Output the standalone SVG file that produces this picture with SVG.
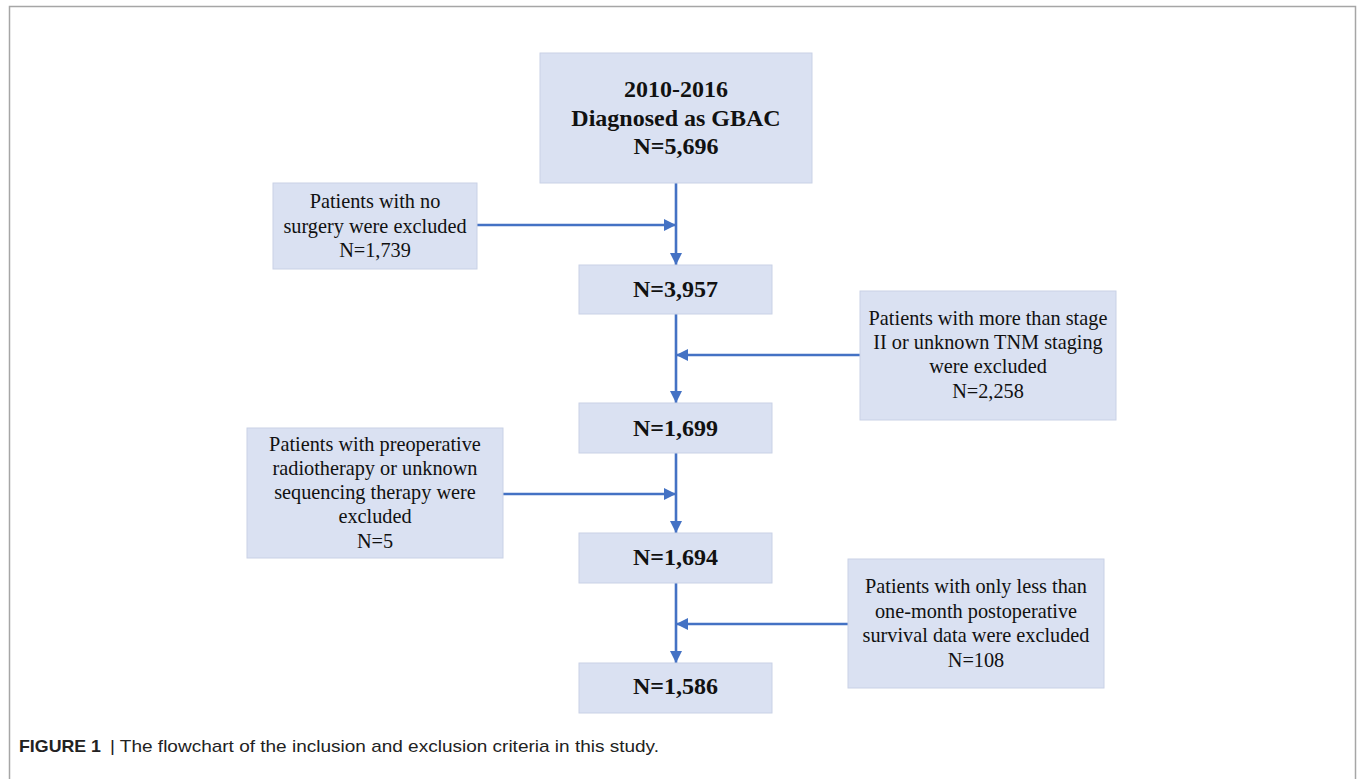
<svg xmlns="http://www.w3.org/2000/svg" width="1357" height="779" viewBox="0 0 1357 779">
<style>
.box{fill:#dae1f2;stroke:#c9d1e6;stroke-width:1}
.b{font-family:"Liberation Serif","Times New Roman",serif;font-weight:bold;font-size:24px;fill:#111;text-anchor:middle}
.r{font-family:"Liberation Serif","Times New Roman",serif;font-size:20.3px;fill:#111;text-anchor:middle}
.ln{stroke:#4472c4;stroke-width:2.6;fill:none}
.cap{font-family:"Liberation Sans Narrow","Liberation Sans",Arial,sans-serif;font-size:17px;fill:#222}
</style>
<defs>
<marker id="ah" markerUnits="userSpaceOnUse" markerWidth="14" markerHeight="14" refX="12" refY="6" orient="auto">
<path d="M0,0 L12,6 L0,12 Z" fill="#4472c4"/>
</marker>
</defs>
<rect width="1357" height="779" fill="#fff"/>
<path d="M9.5,779 V6.5 H1355.5 V779" fill="none" stroke="#a6a6a6" stroke-width="1.5"/>

<g id="connectors">
<line class="ln" x1="676" y1="183" x2="676" y2="265" marker-end="url(#ah)"/>
<line class="ln" x1="477" y1="225" x2="676" y2="225" marker-end="url(#ah)"/>
<line class="ln" x1="676" y1="314" x2="676" y2="403" marker-end="url(#ah)"/>
<line class="ln" x1="860" y1="355" x2="676" y2="355" marker-end="url(#ah)"/>
<line class="ln" x1="676" y1="453" x2="676" y2="533" marker-end="url(#ah)"/>
<line class="ln" x1="503" y1="494" x2="676" y2="494" marker-end="url(#ah)"/>
<line class="ln" x1="676" y1="583" x2="676" y2="663" marker-end="url(#ah)"/>
<line class="ln" x1="848" y1="624" x2="676" y2="624" marker-end="url(#ah)"/>
</g>

<g id="n-start">
<rect class="box" x="540" y="53" width="272" height="130"/>
<text class="b" x="676" y="97">2010-2016</text>
<text class="b" x="676" y="126">Diagnosed as GBAC</text>
<text class="b" x="676" y="154">N=5,696</text>
</g>

<g id="ex-surgery">
<rect class="box" x="273" y="183" width="204" height="86"/>
<text class="r" x="375" y="208">Patients with no</text>
<text class="r" x="375" y="233">surgery were excluded</text>
<text class="r" x="375" y="257">N=1,739</text>
</g>

<g id="n-3957">
<rect class="box" x="579" y="265" width="193" height="49"/>
<text class="b" x="675.5" y="297">N=3,957</text>
</g>

<g id="ex-stage">
<rect class="box" x="860" y="291" width="256" height="129"/>
<text class="r" x="988" y="325">Patients with more than stage</text>
<text class="r" x="988" y="349">II or unknown TNM staging</text>
<text class="r" x="988" y="373">were excluded</text>
<text class="r" x="988" y="398">N=2,258</text>
</g>

<g id="n-1699">
<rect class="box" x="579" y="403" width="193" height="50"/>
<text class="b" x="675.5" y="436">N=1,699</text>
</g>

<g id="ex-radio">
<rect class="box" x="247" y="428" width="256" height="130"/>
<text class="r" x="375" y="451">Patients with preoperative</text>
<text class="r" x="375" y="475">radiotherapy or unknown</text>
<text class="r" x="375" y="499">sequencing therapy were</text>
<text class="r" x="375" y="523">excluded</text>
<text class="r" x="375" y="548">N=5</text>
</g>

<g id="n-1694">
<rect class="box" x="579" y="533" width="193" height="50"/>
<text class="b" x="675.5" y="565">N=1,694</text>
</g>

<g id="ex-survival">
<rect class="box" x="848" y="559" width="256" height="129"/>
<text class="r" x="976" y="593">Patients with only less than</text>
<text class="r" x="976" y="618">one-month postoperative</text>
<text class="r" x="976" y="642">survival data were excluded</text>
<text class="r" x="976" y="667">N=108</text>
</g>

<g id="n-1586">
<rect class="box" x="579" y="663" width="193" height="50"/>
<text class="b" x="675.5" y="694">N=1,586</text>
</g>

<g id="caption">
<text class="cap" x="19" y="752" font-weight="bold" textLength="82" lengthAdjust="spacingAndGlyphs">FIGURE 1</text>
<text class="cap" x="110" y="752" textLength="549" lengthAdjust="spacingAndGlyphs">| The flowchart of the inclusion and exclusion criteria in this study.</text>
</g>
</svg>
